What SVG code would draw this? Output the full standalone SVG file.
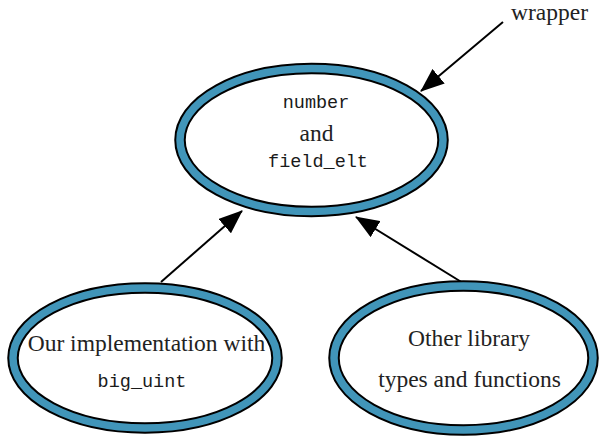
<svg xmlns="http://www.w3.org/2000/svg" width="600" height="437" viewBox="0 0 600 437">
  <style>
    .ring-out { fill: #ffffff; stroke: #000000; stroke-width: 11.5; }
    .ring-in { fill: none; stroke: #4195b9; stroke-width: 7.5; }
    .rm { font-family: "Liberation Serif", "DejaVu Serif", serif; font-size: 23.5px; fill: #222222; text-anchor: middle; }
    .tt { font-family: "Liberation Mono", "DejaVu Sans Mono", monospace; font-size: 18.5px; fill: #1a1a1a; text-anchor: middle; }
    .edge { stroke: #000000; stroke-width: 2; fill: none; marker-end: url(#head); }
  </style>
  <defs>
    <marker id="head" viewBox="0 0 24 19" refX="23" refY="9.5" markerWidth="24" markerHeight="19" markerUnits="userSpaceOnUse" orient="auto">
      <path d="M0,0 L24,9.5 L0,19 Z" fill="#000000"/>
    </marker>
  </defs>

  <g id="connectors">
    <line class="edge" x1="503" y1="22" x2="421" y2="91"/>
    <line class="edge" x1="161" y1="282" x2="242" y2="211"/>
    <line class="edge" x1="463" y1="283" x2="356" y2="217"/>
  </g>

  <g id="node-number">
    <ellipse class="ring-out" cx="311.5" cy="140" rx="131.5" ry="71.5"/>
    <ellipse class="ring-in" cx="311.5" cy="140" rx="131.5" ry="71.5"/>
    <text class="tt" x="316" y="108">number</text>
    <text class="rm" x="316.5" y="141">and</text>
    <text class="tt" x="318" y="167">field_elt</text>
  </g>

  <g id="node-ours">
    <ellipse class="ring-out" cx="145" cy="358" rx="132" ry="70"/>
    <ellipse class="ring-in" cx="145" cy="358" rx="132" ry="70"/>
    <text class="rm" x="146.5" y="351">Our implementation with</text>
    <text class="tt" x="142" y="387">big_uint</text>
  </g>

  <g id="node-other">
    <ellipse class="ring-out" cx="463.5" cy="358" rx="129.5" ry="72"/>
    <ellipse class="ring-in" cx="463.5" cy="358" rx="129.5" ry="72"/>
    <text class="rm" x="469" y="346">Other library</text>
    <text class="rm" x="469.5" y="387">types and functions</text>
  </g>

  <g id="label-wrapper">
    <text class="rm" x="511" y="20" style="text-anchor: start">wrapper</text>
  </g>
</svg>
